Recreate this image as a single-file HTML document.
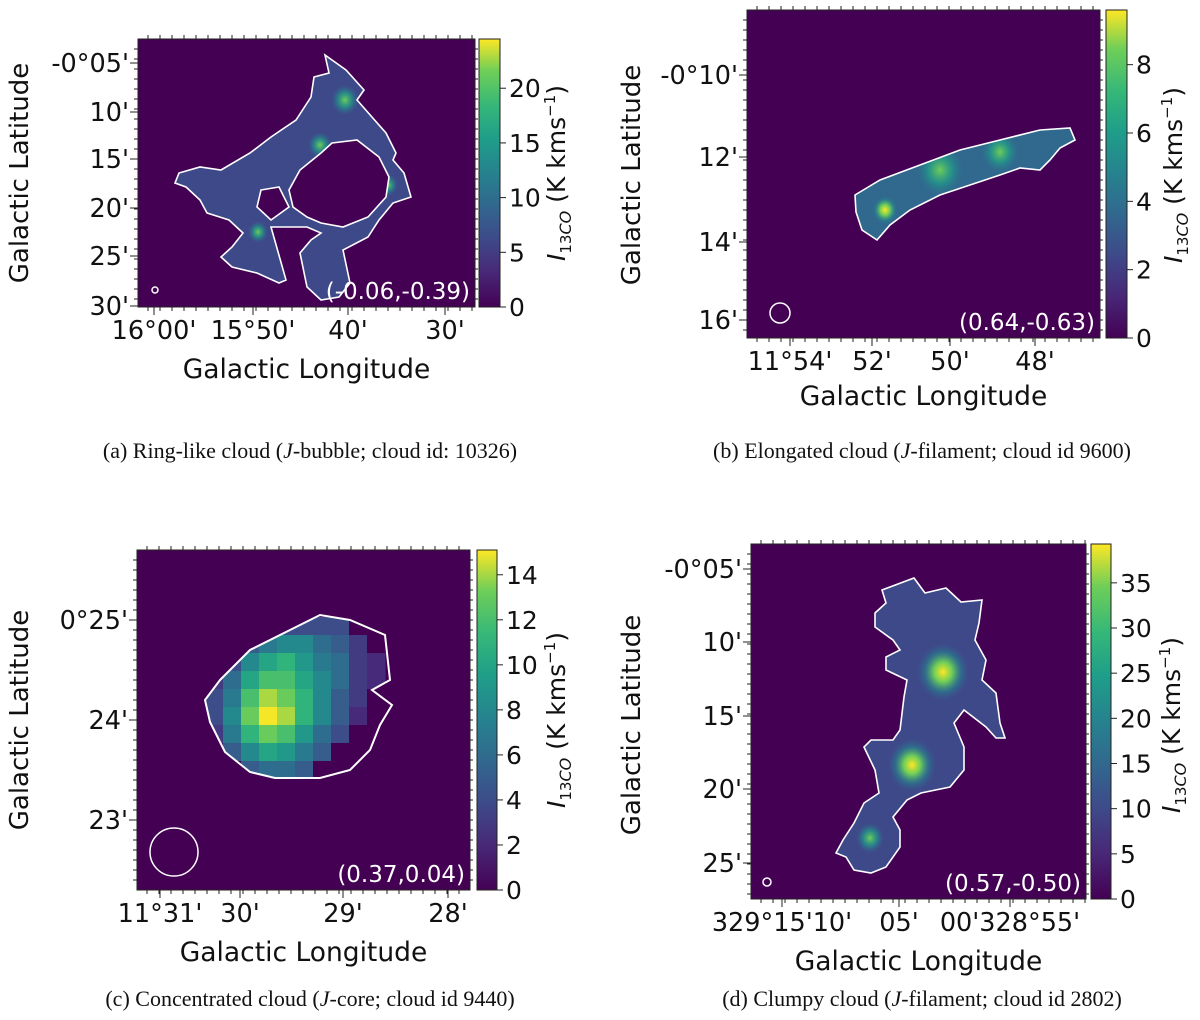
<!DOCTYPE html>
<html><head><meta charset="utf-8"><style>
body{margin:0;background:#fff;width:1200px;height:1020px;overflow:hidden}
svg{position:absolute;left:0;top:0}
text{font-family:"DejaVu Sans","Liberation Sans",sans-serif;fill:#111}
.cap{font-family:"Liberation Serif",serif;font-size:22px}
</style></head><body>
<svg id="fig" width="1200" height="1020">
<defs>
<linearGradient id="vir" x1="0" y1="1" x2="0" y2="0">
<stop offset="0" stop-color="#440154"/><stop offset="0.13" stop-color="#482878"/><stop offset="0.25" stop-color="#3e4989"/><stop offset="0.38" stop-color="#31688e"/><stop offset="0.5" stop-color="#26828e"/><stop offset="0.63" stop-color="#1f9e89"/><stop offset="0.75" stop-color="#35b779"/><stop offset="0.88" stop-color="#6ece58"/><stop offset="1" stop-color="#fde725"/></linearGradient>
<radialGradient id="hotY"><stop offset="0" stop-color="#fde725"/><stop offset="0.35" stop-color="#6ece58"/><stop offset="0.7" stop-color="#26828e" stop-opacity="0.6"/><stop offset="1" stop-color="#31688e" stop-opacity="0"/></radialGradient>
<radialGradient id="hotG"><stop offset="0" stop-color="#6ece58"/><stop offset="0.5" stop-color="#1f9e89" stop-opacity="0.7"/><stop offset="1" stop-color="#31688e" stop-opacity="0"/></radialGradient>
</defs>
</svg>
<script>
// ---- data ----
const panelNames=['ring','elongated','concentrated','clumpy'];
const cbMax=[24.5,9.6,15.1,39.3];
const cbTicks=[[0,5,10,15,20],[0,2,4,6,8],[0,2,4,6,8,10,12,14],[0,5,10,15,20,25,30,35]];
const yTickLabels=[["-0°05'","10'","15'","20'","25'","30'"],["-0°10'","12'","14'","16'"],["0°25'","24'","23'"],["-0°05'","10'","15'","20'","25'"]];
const xTickLabels=[["16°00'","15°50'","40'","30'"],["11°54'","52'","50'","48'"],["11°31'","30'","29'","28'"],["329°15'10'","05'","00'328°55'"]];
const labels=["(-0.06,-0.39)","(0.64,-0.63)","(0.37,0.04)","(0.57,-0.50)"];
const captions=[["(a) Ring-like cloud (","J","-bubble; cloud id: 10326)"],["(b) Elongated cloud (","J","-filament; cloud id 9600)"],["(c) Concentrated cloud (","J","-core; cloud id 9440)"],["(d) Clumpy cloud (","J","-filament; cloud id 2802)"]];
// heatmap of concentrated cloud (rows top->bottom), K km/s
const coreGrid=[
[0,0,0,0,4,4,4,4,0,0],
[0,0,5,7,8,8,6,5,3,0],
[0,4,8,10,11,9,7,6,3,2],
[3,6,10,12,12,10,8,6,3,2],
[4,7,12,14,13,11,8,5,3,0],
[4,8,13,15,14,11,8,5,2,0],
[3,7,11,13,12,9,6,4,0,0],
[0,5,8,10,9,7,5,0,0,0],
[0,0,5,6,6,5,0,0,0,0]];

// ---- layout ----
const P=[
{x0:138,x1:475,y0:39,y1:307,cb:[479,500],yt:[63,112,159,208,256,306],xt:[154,253,348,445],yl:28,yc:173,xlY:378,cbl:565,cap:[310,458]},
{x0:747,x1:1100,y0:10,y1:338,cb:[1106,1127],yt:[75,157,242,320],xt:[790,872,950,1035],yl:640,yc:175,xlY:405,cbl:1182,cap:[922,458]},
{x0:137,x1:470,y0:550,y1:890,cb:[477,497],yt:[620,720,820],xt:[160,240,343,448],yl:28,yc:720,xlY:961,cbl:565,cap:[310,1006]},
{x0:751,x1:1086,y0:544,y1:899,cb:[1091,1111],yt:[569,642,716,789,863],xt:[782,899,1010],yl:640,yc:725,xlY:970,cbl:1180,cap:[922,1006]}];

const NS='http://www.w3.org/2000/svg';
const svg=document.getElementById('fig');
function mk(t,a,p){const e=document.createElementNS(NS,t);for(const k in a)e.setAttribute(k,a[k]);(p||svg).appendChild(e);return e;}
const vstops=['#440154','#482878','#3e4989','#31688e','#26828e','#1f9e89','#35b779','#6ece58','#fde725'];
function hx(c){return [1,3,5].map(i=>parseInt(c.substr(i,2),16));}
function viridis(t){t=Math.max(0,Math.min(1,t));const f=t*8,i=Math.min(7,Math.floor(f)),r=f-i;const a=hx(vstops[i]),b=hx(vstops[i+1]);return 'rgb('+a.map((v,k)=>Math.round(v+(b[k]-v)*r)).join(',')+')';}

const clouds=[
{outer:[[325,55],[346,70],[364,90],[357,100],[386,133],[396,153],[393,160],[404,173],[411,197],[393,203],[379,220],[368,237],[343,250],[350,283],[339,297],[321,300],[307,287],[300,253],[311,240],[321,233],[307,227],[293,227],[271,227],[286,280],[279,283],[257,273],[232,267],[221,257],[232,247],[243,233],[229,220],[207,213],[200,200],[186,187],[175,183],[179,173],[200,167],[221,170],[250,153],[271,137],[296,120],[311,97],[314,77],[329,73]],
 holes:[[[332,143],[357,140],[379,157],[389,177],[386,197],[368,217],[343,227],[321,223],[307,217],[293,207],[289,190],[300,170],[321,153]],[[261,190],[279,187],[289,207],[271,220],[257,207]]],
 fill:'#3e4989',hot:[[345,100,14,'hotG'],[320,145,12,'hotG'],[388,185,10,'hotG'],[335,213,12,'hotG'],[258,232,10,'hotG']]},
{outer:[[855,195],[880,180],[920,165],[960,150],[1000,140],[1040,130],[1070,128],[1075,140],[1060,148],[1050,160],[1040,170],[1020,168],[1000,175],[970,185],[940,195],[910,210],[890,225],[877,240],[862,230],[856,212]],holes:[],
 fill:'#31688e',hot:[[885,210,14,'hotY'],[940,170,25,'hotG'],[1000,152,20,'hotG']]},
null,
{outer:[[882,590],[914,578],[925,593],[946,588],[961,602],[982,600],[979,623],[975,640],[986,660],[982,680],[996,693],[1000,723],[1005,738],[996,738],[986,727],[964,710],[954,723],[964,747],[964,770],[950,787],[921,793],[907,800],[893,817],[900,830],[900,847],[886,867],[871,873],[854,870],[846,857],[836,853],[843,840],[854,823],[864,803],[879,793],[875,770],[864,747],[871,740],[893,740],[900,730],[904,697],[907,680],[886,670],[886,657],[900,650],[893,640],[875,627],[875,613],[886,603]],holes:[],
 fill:'#3e4989',hot:[[943,672,26,'hotY'],[912,765,24,'hotY'],[870,838,14,'hotG']]}];
const coreContour=[[220,680],[250,650],[290,630],[320,615],[350,620],[385,635],[390,680],[372,690],[392,705],[380,725],[370,750],[350,770],[320,778],[275,778],[250,772],[225,752],[210,722],[205,700]];
const pts=a=>a.map(p=>p.join(',')).join(' ');
const pathOf=a=>'M'+a.map(p=>p.join(',')).join('L')+'Z';

P.forEach((p,i)=>{
  const g=mk('g',{});
  
  
  const bg=mk('rect',{x:p.x0,y:p.y0,width:p.x1-p.x0,height:p.y1-p.y0,fill:'#440154',stroke:'#222','stroke-width':1},g);
  
  
  const c=clouds[i];
  if(c){
    const d=pathOf(c.outer)+c.holes.map(pathOf).join('');
    mk('clipPath',{id:'clip'+i},g).appendChild(mk('path',{d:d,'clip-rule':'evenodd'},g));
    const cg=mk('g',{'clip-path':'url(#clip'+i+')'},g);
    mk('path',{d:d,fill:c.fill,'fill-rule':'evenodd'},cg);
    c.hot.forEach(h=>{mk('ellipse',{cx:h[0],cy:h[1],rx:h[2],ry:h[2]*1.1,fill:'url(#'+h[3]+')'},cg);});
    const ct=mk('path',{d:d,fill:'none',stroke:'#fff','stroke-width':1.6},g);
    
    
  } else {
    mk('clipPath',{id:'clip2'},g).appendChild(mk('polygon',{points:pts(coreContour)},g));
    const cg=mk('g',{'clip-path':'url(#clip2)'},g);
    const cs=18,gx=205,gy=617;
    coreGrid.forEach((row,r)=>row.forEach((v,k)=>{
      const cell=mk('rect',{x:gx+k*cs,y:gy+r*cs,width:cs+0.5,height:cs+0.5,fill:viridis(v/cbMax[2])},cg);
      
      
    }));
    const ct=mk('polygon',{points:pts(coreContour),fill:'none',stroke:'#fff','stroke-width':2},g);
    
    
  }
  const br=[3,10,24,4][i];
  const bx=[p.x0+17,p.x0+33,p.x0+37,p.x0+16][i], by=p.y1-[17,25,38,17][i];
  const beam=mk('circle',{cx:bx,cy:by,r:br,fill:'none',stroke:'#fff','stroke-width':1.5},g);
  
  
  const lt=mk('text',{x:p.x1-5,y:p.y1-8,'text-anchor':'end','font-size':23,style:'fill:#fff'},g);
  lt.textContent=labels[i];
  
  
  for(let x=p.x0+10;x<p.x1;x+=12){mk('line',{x1:x,y1:p.y0,x2:x,y2:p.y0-4,stroke:'#222'},g);mk('line',{x1:x,y1:p.y1,x2:x,y2:p.y1+4,stroke:'#222'},g);}
  for(let y=p.y0+10;y<p.y1;y+=10){mk('line',{x1:p.x0,y1:y,x2:p.x0-4,y2:y,stroke:'#222'},g);mk('line',{x1:p.x1,y1:y,x2:p.x1+3,y2:y,stroke:'#222'},g);}
  yTickLabels[i].forEach((s,k)=>{
    mk('line',{x1:p.x0,y1:p.yt[k],x2:p.x0-8,y2:p.yt[k],stroke:'#222'},g);
    const t=mk('text',{x:p.x0-9,y:p.yt[k]+9,'text-anchor':'end','font-size':25.5},g);t.textContent=s;
    
    
  });
  xTickLabels[i].forEach((s,k)=>{
    mk('line',{x1:p.xt[k],y1:p.y1,x2:p.xt[k],y2:p.y1+8,stroke:'#222'},g);
    const t=mk('text',{x:p.xt[k],y:p.y1+32,'text-anchor':'middle','font-size':25.5},g);t.textContent=s;
    
    
  });
  const yl=mk('text',{x:p.yl,y:p.yc,'text-anchor':'middle','font-size':26,transform:'rotate(-90 '+p.yl+' '+p.yc+')'},g);
  yl.textContent='Galactic Latitude';
  
  
  const xl=mk('text',{x:(p.x0+p.x1)/2,y:p.xlY,'text-anchor':'middle','font-size':26.5},g);
  xl.textContent='Galactic Longitude';
  
  
  const cb=mk('rect',{x:p.cb[0],y:p.y0,width:p.cb[1]-p.cb[0],height:p.y1-p.y0,fill:'url(#vir)',stroke:'#222'},g);
  
  
  const sy=v=>p.y1-(v/cbMax[i])*(p.y1-p.y0);
  cbTicks[i].forEach(v=>{
    mk('line',{x1:p.cb[1],y1:sy(v),x2:p.cb[1]+6,y2:sy(v),stroke:'#222'},g);
    const t=mk('text',{x:p.cb[1]+9,y:sy(v)+9,'font-size':25},g);t.textContent=v;
    
    
  });
  const cl=mk('text',{x:p.cbl,y:p.yc,'text-anchor':'middle','font-size':25,transform:'rotate(-90 '+p.cbl+' '+p.yc+')'},g);
  cl.innerHTML='<tspan font-style="italic">I</tspan><tspan font-size="15" dy="6">13</tspan><tspan font-size="16" font-style="italic">CO</tspan><tspan dy="-6"> (K kms</tspan><tspan font-size="15" dy="-10">−1</tspan><tspan dy="10">)</tspan>';
  
  
  const cap=mk('text',{x:p.cap[0],y:p.cap[1],'text-anchor':'middle',class:'cap'});
  cap.innerHTML=captions[i][0]+'<tspan font-style="italic">'+captions[i][1]+'</tspan>'+captions[i][2];
  
  
});
</script>
</body></html>
